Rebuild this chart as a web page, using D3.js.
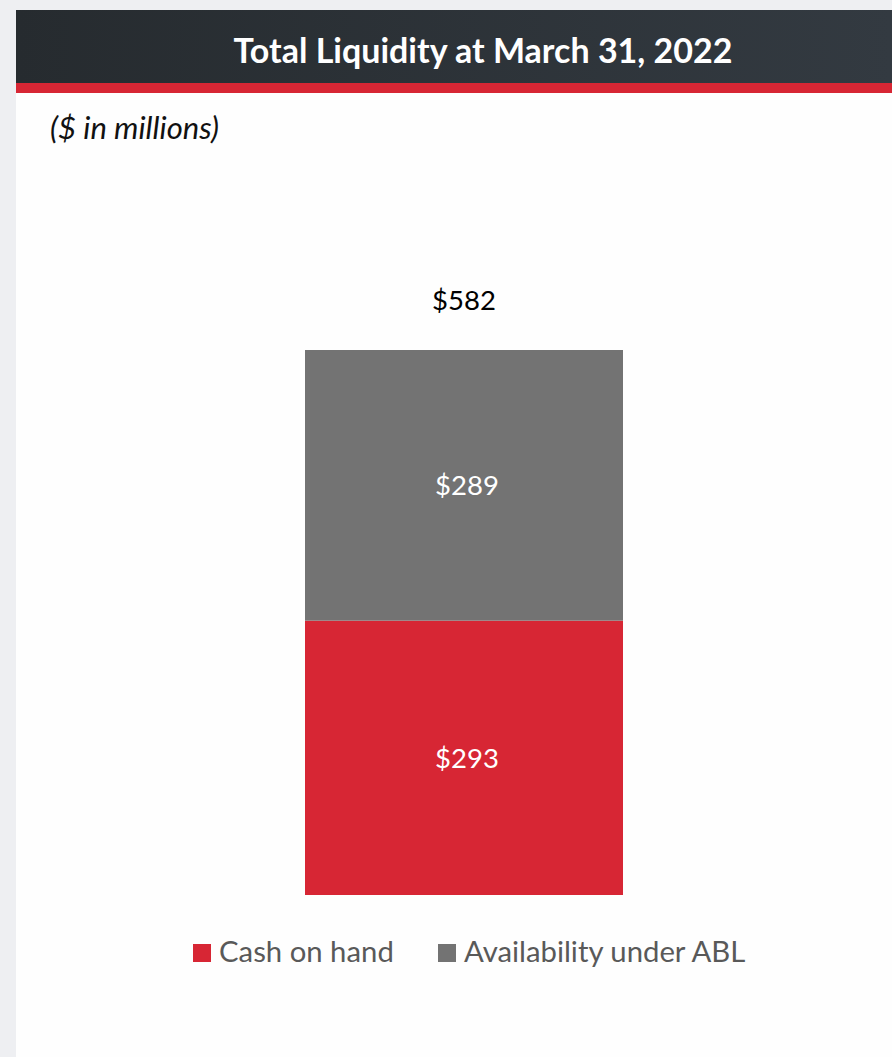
<!DOCTYPE html>
<html><head><meta charset="utf-8">
<script src="https://cdn.jsdelivr.net/npm/d3@7"></script>
<style>body{margin:0;background:#eeeff2;} svg{display:block;}</style>
</head><body>
<svg id="c" width="892" height="1057"></svg>
<script>
const categories = ["March 31, 2022"];
const seriesNames = ["Cash on hand", "Availability under ABL"];
const cashOnHand = [293];
const availabilityABL = [289];
const totals = [582];
const title = "Total Liquidity at March 31, 2022";
const subtitle = "($ in millions)";
const colors = ["#d72634", "#737373"];

const svg = d3.select("#c");
const font = "Lato, 'Open Sans', sans-serif";

// panel
svg.append("rect").attr("x",16).attr("y",10).attr("width",876).attr("height",1047).attr("fill","#fefefe");
const grad = svg.append("defs").append("linearGradient").attr("id","hg").attr("x1","0").attr("x2","1");
grad.append("stop").attr("offset","0").attr("stop-color","#262b2f");
grad.append("stop").attr("offset","1").attr("stop-color","#333a41");
svg.append("rect").attr("x",16).attr("y",10).attr("width",876).attr("height",73).attr("fill","url(#hg)");
svg.append("rect").attr("x",16).attr("y",83).attr("width",876).attr("height",10).attr("fill","#d72634");
svg.append("text").attr("x",483).attr("y",63).attr("text-anchor","middle")
  .attr("fill","#fff").attr("font-family",font).attr("font-weight","bold").attr("font-size",34).text(title);
svg.append("text").attr("x",50).attr("y",139).attr("fill","#111").attr("font-family",font)
  .attr("font-style","italic").attr("font-size",31).text(subtitle);

const x = d3.scaleBand().domain(categories).range([146,782]).paddingInner(0).paddingOuter(0.5);
const y = d3.scaleLinear().domain([0,582]).range([895,350]);

const stackData = categories.map((c,i)=>({cat:c, "Cash on hand":cashOnHand[i], "Availability under ABL":availabilityABL[i]}));
const stack = d3.stack().keys(seriesNames)(stackData);

const g = svg.append("g");
stack.forEach((s,si)=>{
  s.forEach(d=>{
    g.append("rect").attr("x",x(d.data.cat)).attr("width",x.bandwidth())
      .attr("y",y(d[1])).attr("height",y(d[0])-y(d[1])).attr("fill",colors[si]);
    g.append("text").attr("x",x(d.data.cat)+x.bandwidth()/2+3).attr("y",(y(d[0])+y(d[1]))/2+10)
      .attr("text-anchor","middle").attr("fill","#fff").attr("font-family",font).attr("font-size",27.5)
      .text("$"+(d[1]-d[0]));
  });
});
categories.forEach((c,i)=>{
  svg.append("text").attr("x",x(c)+x.bandwidth()/2).attr("y",y(totals[i])-40)
    .attr("text-anchor","middle").attr("fill","#000").attr("font-family",font).attr("font-size",27.5)
    .text("$"+totals[i]);
});

// legend
const legX = [193, 438];
seriesNames.forEach((n,i)=>{
  svg.append("rect").attr("x",legX[i]).attr("y",944).attr("width",18).attr("height",18).attr("fill",colors[i]);
  svg.append("text").attr("x",legX[i]+26).attr("y",962).attr("fill","#595959").attr("font-family",font)
    .attr("font-size",29.3).text(n);
});
</script>
</body></html>
